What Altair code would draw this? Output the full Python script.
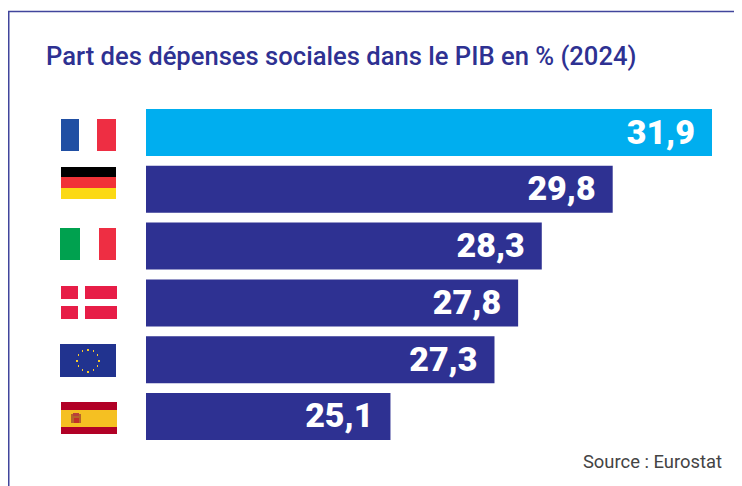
import base64, math
import altair as alt
import pandas as pd

countries = ["France", "Allemagne", "Italie", "Danemark", "UE", "Espagne"]
values = [31.9, 29.8, 28.3, 27.8, 27.3, 25.1]
labels = ["31,9", "29,8", "28,3", "27,8", "27,3", "25,1"]
highlight = ["oui", "non", "non", "non", "non", "non"]

TITLE = "Part des dépenses sociales dans le PIB en % (2024)"
SOURCE = "Source : Eurostat"
NAVY = "#2e3192"
CYAN = "#00aeef"
FRAME = "#41459c"
AXIS_START = 19.93


def box(body):
    svg = ('<svg xmlns="http://www.w3.org/2000/svg" width="240" height="188" '
           'viewBox="0 0 60 47" shape-rendering="crispEdges">' + body + "</svg>")
    return "data:image/svg+xml;base64," + base64.b64encode(svg.encode()).decode()


def rect(x, y, w, h, c):
    return f'<rect x="{x}" y="{y}" width="{w}" height="{h}" fill="{c}"/>'


stars = "".join(
    f'<circle cx="{30 + 11 * math.sin(i * math.pi / 6):.2f}" '
    f'cy="{24.5 - 11 * math.cos(i * math.pi / 6):.2f}" r="1" fill="#f7c92c"/>'
    for i in range(12)
)
flag_france = box(rect(3, 10, 18, 32, "#204fa3") + rect(39, 10, 19, 32, "#ee2e43"))
flag_germany = box(rect(3, 1, 55, 10, "#000000") + rect(3, 11, 55, 11, "#f13237") + rect(3, 22, 55, 11, "#fbd914"))
flag_italy = box(rect(2, 5, 20, 32, "#00a14f") + rect(41, 5, 17, 32, "#ee2e43"))
flag_denmark = box(rect(3, 7, 17, 13, "#e71d47") + rect(27, 7, 32, 13, "#e71d47")
                   + rect(3, 27, 17, 13, "#e71d47") + rect(27, 27, 32, 13, "#e71d47"))
flag_eu = box(rect(2, 8, 56, 33, "#21338f") + stars)
flag_spain = box(rect(3, 9, 56, 8, "#b10026") + rect(3, 17, 56, 17, "#f5c022") + rect(3, 34, 56, 7, "#b10026")
                 + rect(13, 21, 10, 9, "#b5652a") + rect(15, 20, 6, 3, "#b9413a") + rect(16, 25, 5, 5, "#c22f2a"))
flags = [flag_france, flag_germany, flag_italy, flag_denmark, flag_eu, flag_spain]

df = pd.DataFrame({"pays": countries, "valeur": values, "label": labels,
                   "mis": highlight, "flag": flags})

W, H = 726, 478
x_scale = alt.Scale(domain=[AXIS_START, 31.9], range=[138, 704], zero=False, nice=False)
y_scale = alt.Scale(domain=countries, range=[101, 432], paddingInner=0.172, paddingOuter=0)
x_enc = alt.X("valeur:Q", scale=x_scale, axis=None)
y_enc = alt.Y("pays:N", scale=y_scale, axis=None, sort=countries)

bars = alt.Chart(df).mark_bar().encode(
    x=x_enc, x2=alt.datum(AXIS_START), y=y_enc,
    color=alt.Color("mis:N", scale=alt.Scale(domain=["oui", "non"], range=[CYAN, NAVY]), legend=None),
)
text = alt.Chart(df).mark_text(
    align="right", baseline="middle", dx=-17, dy=1, font="Roboto",
    fontWeight=900, fontSize=34, color="white",
).encode(x=x_enc, y=y_enc, text="label:N")
images = alt.Chart(df).mark_image(width=60, height=47, aspect=False).encode(
    x=alt.value(80), y=y_enc, url="flag:N"
)

title = alt.Chart(pd.DataFrame({"t": [TITLE]})).mark_text(
    align="left", baseline="alphabetic", font="Roboto",
    fontWeight=500, fontSize=25.6, color=NAVY,
).encode(x=alt.value(38), y=alt.value(57), text="t:N")
source = alt.Chart(pd.DataFrame({"t": [SOURCE]})).mark_text(
    align="right", baseline="alphabetic", font="Roboto", fontSize=18.4, color="#444444",
).encode(x=alt.value(714), y=alt.value(460), text="t:N")

frame_top = alt.Chart(pd.DataFrame({"a": [0]})).mark_rule(color=FRAME, strokeWidth=1.5).encode(
    x=alt.value(0), x2=alt.value(W), y=alt.value(3.5)
)
frame_left = alt.Chart(pd.DataFrame({"a": [0]})).mark_rule(color=FRAME, strokeWidth=1.5).encode(
    x=alt.value(0.75), y=alt.value(3.5), y2=alt.value(H)
)

chart = alt.layer(
    frame_top, frame_left, title, bars, text, images, source
).properties(
    width=W, height=H, padding=0, autosize=alt.AutoSizeParams(type="none"), background="white",
).configure_view(stroke=None)

chart.save("out.html", embed_options={"renderer": "svg", "actions": False})
